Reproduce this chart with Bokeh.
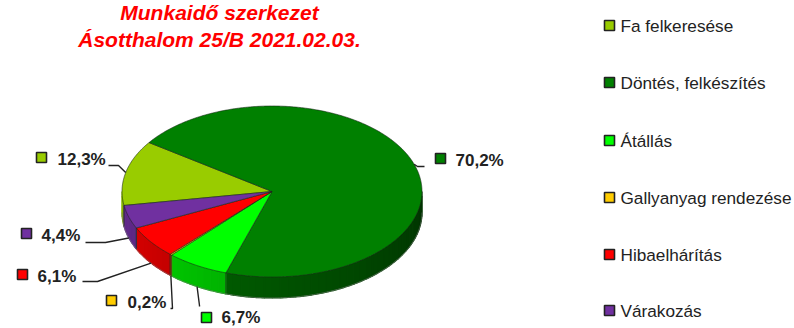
import numpy as np
from bokeh.core.properties import value
from bokeh.embed import file_html
from bokeh.models import Range1d
from bokeh.plotting import figure
from bokeh.resources import INLINE

categories = ["Fa felkeresése", "Döntés, felkészítés", "Átállás",
              "Gallyanyag rendezése", "Hibaelhárítás", "Várakozás"]
shares = [12.3, 70.2, 6.7, 0.2, 6.1, 4.4]
share_labels = ["12,3%", "70,2%", "6,7%", "0,2%", "6,1%", "4,4%"]
colors = ["#99CC00", "#008000", "#00FF00", "#FFCC00", "#FF0000", "#7030A0"]
title_lines = ["Munkaidő szerkezet", "Ásotthalom 25/B 2021.02.03."]

W, H = 794, 328
CX, CY, RX, RY, DEPTH = 271.5, 191, 150, 85.5, 21
START = 189.4
FONT = value("Liberation Sans")

p = figure(width=W, height=H, output_backend="svg", toolbar_location=None,
           x_range=Range1d(0, W), y_range=Range1d(H, 0),
           min_border=0, outline_line_color=None, margin=(0, 0, 0, 0))
p.axis.visible = False
p.grid.visible = False


def ex(a):
    return CX + RX * np.cos(np.radians(a))


def ey(a):
    return CY - RY * np.sin(np.radians(a))


def scaled(hex_color, k):
    r, g, b = (int(hex_color[i:i + 2], 16) for i in (1, 3, 5))
    return "#%02x%02x%02x" % (int(r * k), int(g * k), int(b * k))


def shade(a):
    return 0.85 - 0.45 * (a - 200) / 160


fractions = np.array(shares) / sum(shares)
ends = START - np.cumsum(fractions) * 360
starts = np.concatenate([[START], ends[:-1]])
mids = (starts + ends) / 2

# side wall, split into strips for a shaded look
for s, e, c in zip(starts, ends, colors):
    for lo, hi in [(e, s), (e + 360, s + 360)]:
        a0, a1 = max(lo, 180), min(hi, 360)
        if a1 <= a0:
            continue
        edges = np.arange(a0, a1, 3.0).tolist() + [a1]
        for u, v in zip(edges[:-1], edges[1:]):
            ts = np.linspace(u, v, 5)
            xs = np.concatenate([ex(ts), ex(ts[::-1])])
            ys = np.concatenate([ey(ts), ey(ts[::-1]) + DEPTH])
            col = scaled(c, shade((u + v) / 2))
            p.patch(xs, ys, fill_color=col, line_color=col, line_width=1.2)

# dividing edges of the wall
for s, e, c in zip(starts, ends, colors):
    for a in (s % 360, e % 360):
        if 180 <= a <= 360:
            p.line([ex(a), ex(a)], [ey(a), ey(a) + DEPTH], line_color="#223322", line_width=0.5)

# bottom rim of the wall
rim = np.linspace(180, 360, 181)
p.line(ex(rim), ey(rim) + DEPTH, line_color="#777777", line_width=0.6)

# top faces
for s, e, c in zip(starts, ends, colors):
    ts = np.linspace(s, e, max(int(abs(s - e)) * 2, 3))
    xs = np.concatenate([[CX], ex(ts)])
    ys = np.concatenate([[CY], ey(ts)])
    p.patch(xs, ys, fill_color=c, line_color="#1a2a1a", line_width=0.6)

# layout of the data labels: elbow, marker and text position
elbows = [(118, 165), (417, 166), (199, 305), (172, 308), (97, 281), (105, 242)]
line_ends = [(108, 165), (424, 166), (199, 306), (170, 308), (82, 281), (85, 242)]
markers = [(41, 157), (440, 158), (206, 317), (111, 300), (22, 274), (26, 233)]
text_x = [57, 455, 221, 127, 37, 41]
text_y = [159, 160, 317, 302, 276, 235]
lowered = [False, False, True, True, True, True]

for m, el, le, low in zip(mids, elbows, line_ends, lowered):
    ax, ay = float(ex(m)), float(ey(m)) + (DEPTH if low else 0)
    p.line([ax, el[0], le[0]], [ay, el[1], le[1]], line_color="#222222", line_width=1.4)

p.rect([m[0] for m in markers], [m[1] for m in markers], 10, 10,
       fill_color=colors, line_color="#222222", line_width=1.6)
p.text(text_x, text_y, text=share_labels, text_font=FONT, text_font_style="bold",
       text_font_size="17px", text_color="#222222", text_align="left", text_baseline="middle")

# legend
leg_y = [25, 82, 140, 197, 254, 310]
p.rect([609] * 6, leg_y, 10, 10, fill_color=colors, line_color="#222222", line_width=1.6)
p.text([620] * 6, leg_y, text=categories, text_font=FONT, text_font_size="17.2px",
       text_color="#222222", text_align="left", text_baseline="middle")

# title
p.text([219, 219], [12, 39], text=title_lines, text_font=FONT, text_font_style="bold italic",
       text_font_size="21px", text_color="#FF0000", text_align="center", text_baseline="middle")

open("out.html", "w").write(file_html(p, INLINE))
